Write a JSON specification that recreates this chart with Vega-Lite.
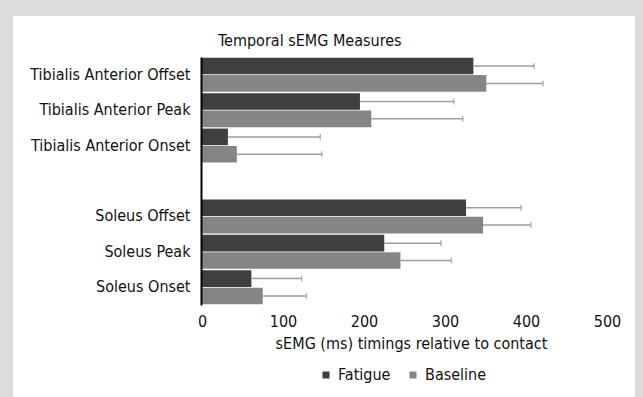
{
  "$schema": "https://vega.github.io/schema/vega-lite/v6.json",
  "width": 622,
  "height": 381,
  "autosize": {"type": "none"},
  "padding": {"left": 13, "top": 16, "right": 8, "bottom": 0},
  "background": "#dcdcdc",
  "config": {
    "view": {"fill": "white", "stroke": null},
    "font": "DejaVu Sans Condensed, Open Sans, sans-serif",
    "axis": {"grid": false}
  },
  "title": {
    "text": "Temporal sEMG Measures",
    "anchor": "start",
    "frame": "group",
    "dx": 205,
    "offset": -33,
    "baseline": "top",
    "fontSize": 16,
    "fontWeight": "normal",
    "color": "#111111"
  },
  "datasets": {
    "bars": [
      {"measure": "Tibialis Anterior Offset", "series": "Fatigue", "value": 335, "upper": 410},
      {"measure": "Tibialis Anterior Offset", "series": "Baseline", "value": 351, "upper": 421},
      {"measure": "Tibialis Anterior Peak", "series": "Fatigue", "value": 195, "upper": 311},
      {"measure": "Tibialis Anterior Peak", "series": "Baseline", "value": 209, "upper": 322},
      {"measure": "Tibialis Anterior Onset", "series": "Fatigue", "value": 32, "upper": 146},
      {"measure": "Tibialis Anterior Onset", "series": "Baseline", "value": 43, "upper": 148},
      {"measure": "Soleus Offset", "series": "Fatigue", "value": 326, "upper": 394},
      {"measure": "Soleus Offset", "series": "Baseline", "value": 347, "upper": 406},
      {"measure": "Soleus Peak", "series": "Fatigue", "value": 225, "upper": 295},
      {"measure": "Soleus Peak", "series": "Baseline", "value": 245, "upper": 308},
      {"measure": "Soleus Onset", "series": "Fatigue", "value": 61, "upper": 123},
      {"measure": "Soleus Onset", "series": "Baseline", "value": 75, "upper": 129}
    ]
  },
  "data": {"name": "bars"},
  "encoding": {
    "y": {
      "field": "measure",
      "type": "nominal",
      "sort": null,
      "scale": {
        "domain": ["Tibialis Anterior Offset", "Tibialis Anterior Peak", "Tibialis Anterior Onset", " ", "Soleus Offset", "Soleus Peak", "Soleus Onset"],
        "range": [41, 289],
        "paddingInner": 0.04,
        "paddingOuter": 0.02
      },
      "axis": {
        "title": null,
        "offset": -188,
        "zindex": 1,
        "ticks": false,
        "domain": true,
        "domainColor": "#000000",
        "domainWidth": 2,
        "labelPadding": 11,
        "labelFontSize": 16,
        "labelColor": "#111111",
        "labelLimit": 300
      }
    },
    "yOffset": {"field": "series", "type": "nominal", "sort": ["Fatigue", "Baseline"], "scale": {"paddingInner": 0.04}}
  },
  "layer": [
    {
      "mark": {"type": "bar"},
      "encoding": {
        "x": {
          "field": "value",
          "type": "quantitative",
          "scale": {"domain": [0, 500], "range": [189, 594], "nice": false, "zero": false},
          "axis": {
            "title": "sEMG (ms) timings relative to contact",
            "orient": "bottom",
            "offset": -92,
            "values": [0, 100, 200, 300, 400, 500],
            "ticks": false,
            "domain": false,
            "labelFlush": false,
            "labelPadding": 8,
            "labelFontSize": 16,
            "labelColor": "#111111",
            "titleFontSize": 16,
            "titleFontWeight": "normal",
            "titleColor": "#111111",
            "titlePadding": 6,
            "titleX": 398
          }
        },
        "color": {
          "field": "series",
          "type": "nominal",
          "scale": {"domain": ["Fatigue", "Baseline"], "range": ["#3f3f41", "#858585"]},
          "legend": {
            "orient": "none",
            "legendX": 305,
            "legendY": 351,
            "direction": "horizontal",
            "title": null,
            "symbolType": "square",
            "symbolSize": 49,
            "symbolStrokeWidth": 0,
            "labelFontSize": 16,
            "labelColor": "#111111",
            "labelOffset": 4,
            "columnPadding": 14
          }
        }
      }
    },
    {
      "mark": {"type": "rule", "color": "#9d9d9d", "strokeWidth": 1.5},
      "encoding": {
        "x": {"field": "value", "type": "quantitative"},
        "x2": {"field": "upper"}
      }
    },
    {
      "mark": {"type": "tick", "color": "#9d9d9d", "thickness": 1.5, "size": 6},
      "encoding": {
        "x": {"field": "upper", "type": "quantitative"}
      }
    }
  ]
}
